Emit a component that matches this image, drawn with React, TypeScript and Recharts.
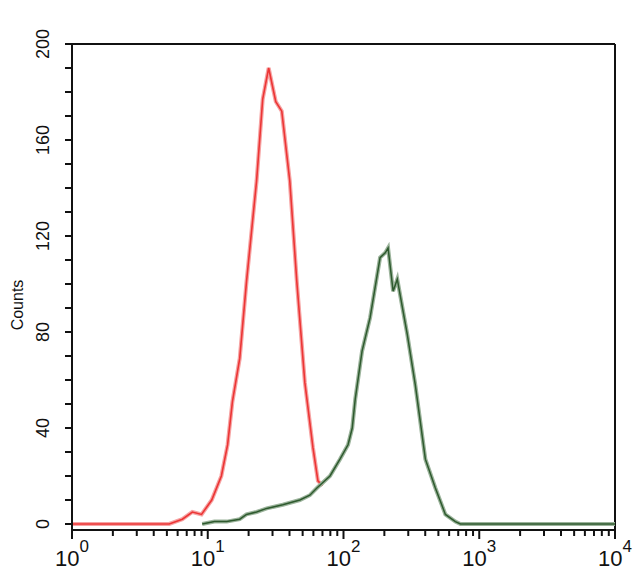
import React from 'react';
import { LineChart, Line, XAxis, YAxis, ReferenceLine } from 'recharts';

// control (red) histogram: fluorescence channel value vs counts
const redFluor = [1, 2.5, 5.2, 6.5, 7.7, 9.0, 10.7, 12.6, 14.0, 15.2, 17.2, 19.3, 22.9, 25.4, 28.1, 31.7, 35.1, 40.2, 45.3, 51.9, 59.5, 64.8, 70];
const redCounts = [0, 0, 0, 2, 5, 4, 10, 20, 33, 51, 69, 101, 143, 177, 190, 176, 172, 143, 101, 59, 32, 18, 16];

// stained sample (green) histogram
const greenFluor = [9.1, 11.2, 13.8, 17.2, 19.3, 22.9, 27.2, 35.7, 47.7, 56.5, 63.7, 79.5, 94.2, 108, 116, 122, 137, 157, 186, 203, 213, 232, 249, 295, 338, 401, 475, 563, 667, 727, 10000];
const greenCounts = [0, 1, 1, 2, 4, 5, 6.5, 8, 10, 12, 15, 20, 27, 33, 40, 52, 72, 86, 111, 113, 115, 97, 102, 79, 58, 27, 15, 4, 1, 0, 0];

const decades = [1, 10, 100, 1000, 10000];
const minorSteps = [2, 3, 4, 5, 6, 7, 8, 9];
const xTicks = decades.flatMap((d, i) => (i < decades.length - 1 ? [d, ...minorSteps.map((m) => d * m)] : [d]));
const yTicks = [0, 10, 20, 30, 40, 50, 60, 70, 80, 90, 100, 110, 120, 130, 140, 150, 160, 170, 180, 190, 200];
const yLabels = [0, 40, 80, 120, 160, 200];

const redData = redFluor.map((x, i) => ({ x, y: redCounts[i] }));
const greenData = greenFluor.map((x, i) => ({ x, y: greenCounts[i] }));

const FONT = '"Liberation Sans", Arial, sans-serif';

const XTick = (props: any) => {
  const { x, y, payload } = props;
  const lg = Math.log10(payload.value);
  const exp = Math.round(lg);
  const major = Math.abs(lg - exp) < 1e-6;
  return (
    <g>
      <path d={`M${x},${y}V${y + (major ? 9 : 6)}`} stroke="#111" strokeWidth={2} fill="none" />
      {major && (
        <text x={x} y={y + 36} textAnchor="middle" fontFamily={FONT} fontSize={22} fill="#111">
          10
          <tspan dy={-14} fontSize={17}>{exp}</tspan>
        </text>
      )}
    </g>
  );
};

const YTick = (props: any) => {
  const { x, y, payload } = props;
  const v = payload.value;
  return (
    <g>
      <path d={`M${x - 7},${y}H${x}`} stroke="#111" strokeWidth={2} fill="none" />
      {yLabels.includes(v) && (
        <text
          transform={`translate(${x - 29},${y}) rotate(-90)`}
          textAnchor="middle"
          dominantBaseline="central"
          fontFamily={FONT}
          fontSize={18}
          fill="#111"
        >
          {v}
        </text>
      )}
    </g>
  );
};

const CountsLabel = () => (
  <text
    transform="translate(17,305) rotate(-90)"
    textAnchor="middle"
    dominantBaseline="central"
    fontFamily={FONT}
    fontSize={16}
    fill="#111"
  >
    Counts
  </text>
);

export default function App() {
  return (
    <div style={{ position: 'absolute', left: 0, top: 0, background: '#fff' }}>
      <LineChart width={640} height={577} margin={{ top: 44, right: 25, bottom: 0, left: 0 }}>
        <XAxis
          dataKey="x"
          type="number"
          scale="log"
          domain={[1, 10000]}
          ticks={xTicks}
          interval={0}
          minTickGap={0}
          height={47}
          tickSize={0}
          tickMargin={0}
          tickLine={false}
          tick={<XTick />}
          axisLine={{ stroke: '#111', strokeWidth: 2 }}
        />
        <YAxis
          dataKey="y"
          type="number"
          domain={[-2.5, 200]}
          ticks={yTicks}
          interval={0}
          minTickGap={0}
          width={72}
          tickSize={0}
          tickMargin={0}
          tickLine={false}
          tick={<YTick />}
          axisLine={{ stroke: '#111', strokeWidth: 2 }}
          label={<CountsLabel />}
        />
        <ReferenceLine y={200} stroke="#111" strokeWidth={2} />
        <ReferenceLine x={10000} stroke="#111" strokeWidth={2} />
        <Line data={redData} dataKey="y" type="linear" stroke="#f6a3a3" strokeWidth={4} dot={false} isAnimationActive={false} />
        <Line data={redData} dataKey="y" type="linear" stroke="#ec3535" strokeWidth={1.6} dot={false} isAnimationActive={false} />
        <Line data={greenData} dataKey="y" type="linear" stroke="#9bb39b" strokeWidth={4} dot={false} isAnimationActive={false} />
        <Line data={greenData} dataKey="y" type="linear" stroke="#2e5a2e" strokeWidth={1.5} dot={false} isAnimationActive={false} />
      </LineChart>
    </div>
  );
}
